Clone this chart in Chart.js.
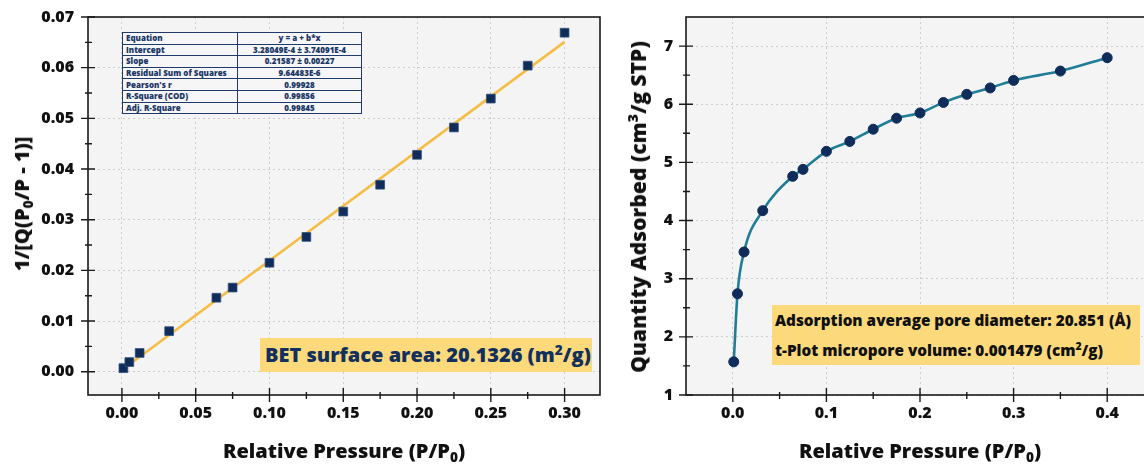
<!DOCTYPE html>
<html>
<head>
<meta charset="utf-8">
<script src="https://cdn.jsdelivr.net/npm/chart.js@4.4.1/dist/chart.umd.min.js"></script>
<style>
  html, body { margin: 0; padding: 0; width: 1144px; height: 464px; overflow: hidden; background: #fff; font-family: 'Open Sans', 'Noto Sans', sans-serif; }
  .wrap { position: absolute; top: 0; height: 464px; }
  #leftWrap { left: 0; width: 610px; }
  #rightWrap { left: 616px; width: 594px; }
  canvas { display: block; }
  .title { position: absolute; font-weight: 800; font-size: 20px; color: #111; white-space: nowrap; line-height: 24px; }
  .xtitle { transform: translate(-50%, -50%); }
  .ytitle { transform: translate(-50%, -50%) rotate(-90deg); }
  sub { font-size: 0.68em; vertical-align: -0.3em; line-height: 0; }
  sup { font-size: 0.68em; vertical-align: 0.55em; line-height: 0; }
  #fitTable { position: absolute; left: 122px; top: 32px; width: 240px; border-collapse: collapse; background: #f6f6f6; color: #1b3766; font-size: 8px; font-weight: 800; }
  #fitTable td { border: 1.4px solid #1f3b6b; height: 10.6px; padding: 0 3px; line-height: 10px; }
  #fitTable td:first-child { width: 108px; }
  #fitTable td:last-child { text-align: center; }
  .note { position: absolute; background: #fcda7c; font-weight: 800; white-space: nowrap; }
  #betNote { left: 260px; top: 338px; width: 332px; height: 34px; line-height: 34px; font-size: 20px; color: #12305e; padding-left: 5px; box-sizing: border-box; }
  #poreNote { left: 772px; top: 305px; width: 368px; height: 60px; font-size: 15.3px; color: #111; padding: 0 0 0 3px; box-sizing: border-box; line-height: 30px; }
</style>
</head>
<body>
<div class="wrap" id="leftWrap"><canvas id="betChart" width="610" height="464"></canvas></div>
<div class="wrap" id="rightWrap"><canvas id="isoChart" width="594" height="464"></canvas></div>

<table id="fitTable"><tbody></tbody></table>
<div class="note" id="betNote">BET surface area: 20.1326 (m<sup>2</sup>/g)</div>
<div class="note" id="poreNote">Adsorption average pore diameter: 20.851 (Å)<br>t-Plot micropore volume: 0.001479 (cm<sup>2</sup>/g)</div>

<div class="title ytitle" style="left:22px; top:204px;">1/[Q(P<sub>0</sub>/P - 1)]</div>
<div class="title xtitle" style="left:344px; top:451px;">Relative Pressure (P/P<sub>0</sub>)</div>
<div class="title ytitle" style="left:638px; top:207px; font-size:21px;">Quantity Adsorbed (cm<sup>3</sup>/g STP)</div>
<div class="title xtitle" style="left:920px; top:451px;">Relative Pressure (P/P<sub>0</sub>)</div>

<script>
// BET plot data
const betX = [0.001, 0.005, 0.012, 0.032, 0.064, 0.075, 0.100, 0.125, 0.150, 0.175, 0.200, 0.225, 0.250, 0.275, 0.300];
const betY = [0.0007, 0.0019, 0.0037, 0.0080, 0.0146, 0.0166, 0.0215, 0.0266, 0.0316, 0.0369, 0.0428, 0.0482, 0.0539, 0.0604, 0.0669];
// linear fit end points (y = a + b*x)
const fitX = [0, 0.3];
const fitY = [0.000328, 0.065089];
const betXTicks = [0, 0.05, 0.10, 0.15, 0.20, 0.25, 0.30];
const betYTicks = [0, 0.01, 0.02, 0.03, 0.04, 0.05, 0.06, 0.07];

// fit report table
const fitLabels = ['Equation', 'Intercept', 'Slope', 'Residual Sum of Squares', "Pearson's r", 'R-Square (COD)', 'Adj. R-Square'];
const fitValues = ['y = a + b*x', '3.28049E-4 ± 3.74091E-4', '0.21587 ± 0.00227', '9.64483E-6', '0.99928', '0.99856', '0.99845'];

// isotherm data
const isoX = [0.001, 0.005, 0.012, 0.032, 0.064, 0.075, 0.100, 0.125, 0.150, 0.175, 0.200, 0.225, 0.250, 0.275, 0.300, 0.350, 0.400];
const isoY = [1.57, 2.74, 3.46, 4.17, 4.76, 4.88, 5.19, 5.36, 5.57, 5.76, 5.85, 6.03, 6.17, 6.28, 6.41, 6.57, 6.80];
const isoXTicks = [0, 0.1, 0.2, 0.3, 0.4];
const isoYTicks = [1, 2, 3, 4, 5, 6, 7];

// fill the fit table
const tbody = document.querySelector('#fitTable tbody');
fitLabels.forEach((label, i) => {
    const row = document.createElement('tr');
    row.innerHTML = `<td>${label}</td><td>${fitValues[i]}</td>`;
    tbody.appendChild(row);
});

const tickFont = { family: "'Open Sans', 'Noto Sans', sans-serif", size: 16, weight: '800' };

// plot background, frame and crossing tick marks
const framePlugin = {
    id: 'frame',
    beforeDraw(chart) {
        const { ctx, chartArea: a } = chart;
        ctx.save();
        ctx.fillStyle = '#f4f4f4';
        ctx.fillRect(a.left, a.top, a.right - a.left, a.bottom - a.top);
        ctx.restore();
    },
    afterDraw(chart) {
        const { ctx, chartArea: a } = chart;
        const xs = chart.scales.x, ys = chart.scales.y;
        ctx.save();
        ctx.strokeStyle = '#1a1a1a';
        ctx.lineWidth = 1.6;
        ctx.strokeRect(a.left, a.top, a.right - a.left, a.bottom - a.top);

        ctx.lineWidth = 1.4;
        ctx.beginPath();
        const xv = xs.ticks.map(t => t.value);
        xv.forEach(v => {
            const px = xs.getPixelForValue(v);
            ctx.moveTo(px, a.bottom - 7); ctx.lineTo(px, a.bottom + 7);
            const step = (xv[1] - xv[0]) / 2;
            [v - step, v + step].forEach(m => {
                const mp = xs.getPixelForValue(m);
                if (mp > a.left + 1 && mp < a.right - 1) { ctx.moveTo(mp, a.bottom - 3); ctx.lineTo(mp, a.bottom + 4); }
            });
        });
        const yv = ys.ticks.map(t => t.value);
        yv.forEach(v => {
            const py = ys.getPixelForValue(v);
            ctx.moveTo(a.left - 7, py); ctx.lineTo(a.left + 7, py);
            const step = (yv[1] - yv[0]) / 2;
            [v - step, v + step].forEach(m => {
                const mp = ys.getPixelForValue(m);
                if (mp > a.top + 1 && mp < a.bottom - 1) { ctx.moveTo(a.left - 3, mp); ctx.lineTo(a.left + 4, mp); }
            });
        });
        ctx.stroke();
        ctx.restore();
    }
};

const axis = (min, max, ticks, digits, side, size, pad) => ({
    type: 'linear',
    min: min,
    max: max,
    afterBuildTicks: s => { s.ticks = ticks.map(v => ({ value: v })); },
    afterFit: s => {
        if (side === 'x') s.height = size; else s.width = size;
        s.paddingLeft = 0; s.paddingRight = 0; s.paddingTop = 0; s.paddingBottom = 0;
    },
    ticks: {
        font: tickFont,
        color: '#111',
        padding: pad,
        maxRotation: 0,
        autoSkip: false,
        callback: v => Number(v).toFixed(digits)
    },
    grid: { color: '#cdcdcd', lineWidth: 1, drawTicks: false },
    border: { display: false, dash: [2, 3] }
});

new Chart(document.getElementById('betChart'), {
    type: 'scatter',
    data: {
        datasets: [
            {
                label: 'BET',
                data: betX.map((x, i) => ({ x: x, y: betY[i] })),
                pointStyle: 'rect',
                pointRadius: 6.2,
                backgroundColor: '#0f2c5a',
                borderColor: '#34507c',
                borderWidth: 0.8,
                order: 0
            },
            {
                label: 'Linear fit',
                data: fitX.map((x, i) => ({ x: x, y: fitY[i] })),
                showLine: true,
                borderColor: '#f5bd45',
                borderWidth: 2.6,
                pointRadius: 0,
                order: 1
            }
        ]
    },
    options: {
        responsive: false,
        animation: false,
        layout: { padding: { top: 17, right: 10, left: 0, bottom: 0 } },
        plugins: { legend: { display: false }, tooltip: { enabled: false } },
        scales: {
            x: axis(-0.023, 0.324, betXTicks, 2, 'x', 69, 9),
            y: axis(-0.0046, 0.07, betYTicks, 2, 'y', 88, 14)
        }
    },
    plugins: [framePlugin]
});

new Chart(document.getElementById('isoChart'), {
    type: 'scatter',
    data: {
        datasets: [{
            label: 'Isotherm',
            data: isoX.map((x, i) => ({ x: x, y: isoY[i] })),
            showLine: true,
            cubicInterpolationMode: 'monotone',
            borderColor: '#1f7d97',
            borderWidth: 2.6,
            pointRadius: 5,
            pointBackgroundColor: '#0f2c5a',
            pointBorderColor: '#0f2c5a',
            pointBorderWidth: 1
        }]
    },
    options: {
        responsive: false,
        animation: false,
        layout: { padding: { top: 17, right: 56, left: 0, bottom: 0 } },
        plugins: { legend: { display: false }, tooltip: { enabled: false } },
        scales: {
            x: axis(-0.05, 0.45, isoXTicks, 1, 'x', 69, 9),
            y: axis(1, 7.5, isoYTicks, 0, 'y', 70, 13)
        }
    },
    plugins: [framePlugin]
});
</script>
</body>
</html>
